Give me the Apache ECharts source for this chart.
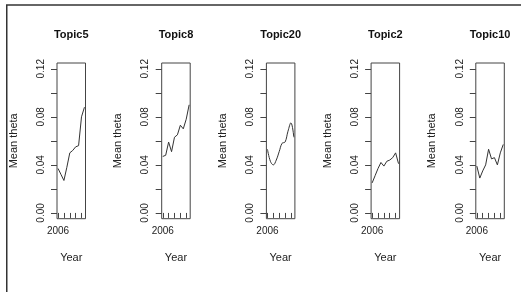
<!DOCTYPE html>
<html>
<head>
<meta charset="utf-8">
<script src="https://cdn.jsdelivr.net/npm/echarts@6/dist/echarts.min.js"></script>
<style>
  html, body { margin: 0; padding: 0; background: #fff; }
  #main { width: 526px; height: 292px; }
</style>
</head>
<body>
<div id="main"></div>
<script>
// x values (year) shared by all panels
const years = [2006, 2006.5, 2007, 2007.5, 2008, 2008.5, 2009, 2009.5, 2010, 2010.5];
const topics = ["Topic5", "Topic8", "Topic20", "Topic2", "Topic10"];

// mean theta per topic
const topic5 = [0.037, 0.032, 0.027, 0.038, 0.050, 0.052, 0.055, 0.056, 0.080, 0.088];
const topic8 = [0.047, 0.048, 0.059, 0.051, 0.063, 0.065, 0.073, 0.070, 0.078, 0.090];
const topic20 = [0.053, 0.043, 0.040, 0.044, 0.051, 0.058, 0.059, 0.068, 0.075, 0.063];
const topic2 = [0.025, 0.031, 0.037, 0.042, 0.039, 0.043, 0.044, 0.046, 0.050, 0.041];
const topic10 = [0.039, 0.029, 0.035, 0.040, 0.053, 0.045, 0.046, 0.040, 0.050, 0.057];
const seriesValues = [topic5, topic8, topic20, topic2, topic10];

const yTicks = [0, 0.02, 0.04, 0.06, 0.08, 0.10, 0.12];
const yLabels = [0, 0.04, 0.08, 0.12];
const xTicks = [2006, 2007, 2008, 2009, 2010];
const xLabels = [2006];

const FONT = '"Liberation Sans", Arial, sans-serif';
const myChart = echarts.init(document.getElementById("main"));

// R style: axes padded by 4% on each side
const xSpan = years[years.length - 1] - years[0];
const xMin = years[0] - 0.04 * xSpan;
const xMax = years[years.length - 1] + 0.04 * xSpan;
const ySpan = 0.12;
const yMin = -0.04 * ySpan;
const yMax = 0.12 + 0.04 * ySpan;

const grids = [], xAxes = [], yAxes = [], series = [], graphics = [];

topics.forEach((name, i) => {
  const left = 57 + i * 104.7;
  grids.push({
    left: left, top: 63, width: 28.5, height: 155.7,
    show: true, borderColor: "#444", borderWidth: 1, backgroundColor: "transparent"
  });
  xAxes.push({
    type: "value", gridIndex: i, min: xMin, max: xMax,
    axisLine: { show: false },
    splitLine: { show: false },
    axisTick: { show: true, length: 5, lineStyle: { color: "#444" }, customValues: xTicks },
    axisLabel: {
      show: true, customValues: xLabels, margin: 8, color: "#222", fontSize: 10, fontFamily: FONT,
      formatter: v => String(Math.round(v))
    },
    name: "Year", nameLocation: "middle", nameGap: 34,
    nameTextStyle: { color: "#222", fontSize: 11, fontFamily: FONT }
  });
  yAxes.push({
    type: "value", gridIndex: i, min: yMin, max: yMax,
    axisLine: { show: false },
    splitLine: { show: false },
    axisTick: { show: true, length: 6, lineStyle: { color: "#444" }, customValues: yTicks },
    axisLabel: {
      show: true, customValues: yLabels, rotate: 90, margin: 11,
      color: "#222", fontSize: 10, fontFamily: FONT,
      formatter: v => v.toFixed(2)
    },
    name: "Mean theta", nameLocation: "middle", nameGap: 38, nameRotate: 90,
    nameTextStyle: { color: "#222", fontSize: 11, fontFamily: FONT }
  });
  series.push({
    type: "line", xAxisIndex: i, yAxisIndex: i,
    data: years.map((y, k) => [y, seriesValues[i][k]]),
    showSymbol: false, silent: true,
    smooth: name === "Topic20" ? 0.4 : false,
    lineStyle: { color: "#333", width: 1 }
  });
  graphics.push({
    type: "text", x: left + 14.25, y: 35,
    style: { text: name, align: "center", verticalAlign: "middle",
      font: "bold 11px " + FONT, fill: "#111" }
  });
});

// frame lines on the left and top
graphics.push({ type: "line", shape: { x1: 6.75, y1: 5, x2: 6.75, y2: 292 }, style: { stroke: "#333", lineWidth: 1.5 } });
graphics.push({ type: "line", shape: { x1: 6, y1: 5, x2: 521, y2: 5 }, style: { stroke: "#333", lineWidth: 1.5 } });

myChart.setOption({
  animation: false,
  backgroundColor: "#fff",
  grid: grids,
  xAxis: xAxes,
  yAxis: yAxes,
  series: series,
  graphic: graphics
});
</script>
</body>
</html>
